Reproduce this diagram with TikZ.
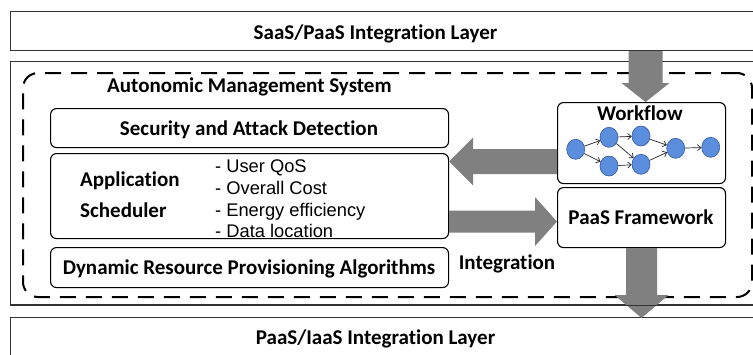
\documentclass[tikz,border=0pt]{standalone}
\usepackage{fontspec}
\setmainfont[RawFeature={-liga;-clig;-dlig;-calt}]{Carlito}
\newfontfamily\arialf[RawFeature={-liga;-clig;-dlig}]{Liberation Sans}
\usetikzlibrary{calc,shapes.geometric,arrows.meta}
\definecolor{nodeblue}{RGB}{92,142,222}
\definecolor{nodeedge}{RGB}{50,90,165}
\definecolor{arrowgray}{RGB}{128,128,128}
\newcommand\fatarr[5]{%
  \coordinate (facenter) at ($(#2)!#5!(#1)$);
  \fill[fatarrow] ($(#1)!#3!90:(#2)$) -- ($(facenter)!#3!90:(#2)$) -- ($(facenter)!#4!90:(#2)$) -- (#2)
    -- ($(facenter)!#4!-90:(#2)$) -- ($(facenter)!#3!-90:(#2)$) -- ($(#1)!#3!-90:(#2)$) -- cycle;}
\begin{document}
\begin{tikzpicture}[x=1pt,y=-1pt,
  layerbox/.style={draw=black!80, line width=1.2pt, inner sep=0pt, anchor=north west},
  inbox/.style={draw=black, line width=1.1pt, rounded corners=6pt, inner sep=0pt, anchor=north west},
  boldtxt/.style={font=\fontsize{21}{25}\selectfont\bfseries, inner sep=0pt},
  itemtxt/.style={font=\arialf\fontsize{18.3}{22}\selectfont, inner sep=0pt, anchor=base west},
  wfn/.style={ellipse, draw=nodeedge, fill=nodeblue, line width=0.6pt, minimum width=18pt, minimum height=20pt, inner sep=0pt},
  wfe/.style={draw=black!85, line width=0.7pt, -{Straight Barb[length=3.5pt,width=6pt]}},
  fatarrow/.style={fill=arrowgray}
]
\useasboundingbox (0,0) rectangle (753,354);
\fill[white] (0,0) rectangle (753,354);

% outer layers
\node[layerbox, minimum width=760pt, minimum height=39pt] (saas) at (10,11) {};
\node[boldtxt, anchor=base] (saastxt) at (375.5,39) {SaaS/PaaS Integration Layer};
\node[layerbox, minimum width=760pt, minimum height=243pt] (mid) at (10,61) {};
\node[layerbox, minimum width=760pt, minimum height=60pt] (iaas) at (10,317) {};
\node[boldtxt, anchor=base] (iaastxt) at (375.5,344.5) {PaaS/IaaS Integration Layer};

% autonomic management system
\node[draw=black, line width=2pt, dash pattern=on 16pt off 10pt, rounded corners=15pt,
      minimum width=729pt, minimum height=224pt, inner sep=0pt, anchor=north west] (ams) at (22,72) {};
\node[boldtxt, anchor=base west] (amstxt) at (107,92) {Autonomic Management System};

% inner boxes
\node[inbox, minimum width=398pt, minimum height=39pt] (sec) at (50,108) {};
\node[boldtxt, anchor=base] (sectxt) at (249,135) {Security and Attack Detection};
\node[inbox, minimum width=398pt, minimum height=85pt] (app) at (50,153) {};
\node[boldtxt, anchor=base west] (apptxt1) at (80,186) {Application};
\node[boldtxt, anchor=base west] (apptxt2) at (80,217) {Scheduler};
\node[itemtxt] (it1) at (215,172.5) {- User QoS};
\node[itemtxt] (it2) at (215,194.3) {- Overall Cost};
\node[itemtxt] (it3) at (215,216) {- Energy efficiency};
\node[itemtxt] (it4) at (215,237.6) {- Data location};
\node[inbox, minimum width=398pt, minimum height=40pt] (dyn) at (50,247) {};
\node[boldtxt, anchor=base] (dyntxt) at (249,274) {Dynamic Resource Provisioning Algorithms};
\node[boldtxt, anchor=base] (integ) at (507,269) {Integration};

\node[inbox, minimum width=168pt, minimum height=81pt] (wf) at (557,102) {};
\node[boldtxt, anchor=base] (wftxt) at (640,120) {Workflow};
\node[inbox, minimum width=168pt, minimum height=60pt] (pf) at (557,187) {};
\node[boldtxt, anchor=base] (pftxt) at (641,224) {PaaS Framework};

% workflow graph
\node[wfn] (n1) at (575.7,149.3) {};
\node[wfn] (n2) at (609,137.3) {};
\node[wfn] (n3) at (609,166) {};
\node[wfn] (n4) at (641,136) {};
\node[wfn] (n5) at (641,164.3) {};
\node[wfn] (n6) at (675.7,148.3) {};
\node[wfn] (n7) at (710.7,147.3) {};
\draw[wfe] (n1) -- (n2);
\draw[wfe] (n1) -- (n3);
\draw[wfe] (n2) -- (n4);
\draw[wfe] (n2) -- (n5);
\draw[wfe] (n3) -- (n5);
\draw[wfe] (n4) -- (n6);
\draw[wfe] (n5) -- (n6);
\draw[wfe] (n6) -- (n7);

% fat arrows
\coordinate (bA) at (pf.south);
\coordinate (bB) at ([yshift=-1pt]pf.south |- iaas.north);
\fatarr{bA}{bB}{15.5pt}{27pt}{23pt}
\draw[black!80, line width=1.2pt] (mid.south west) -- (mid.south east);
\coordinate (tB) at ([xshift=4pt]wf.north);
\coordinate (tA) at (tB |- saas.south);
\fatarr{tA}{tB}{17pt}{24pt}{19pt}
\coordinate (lA) at ([yshift=-18.5pt]wf.west);
\coordinate (lB) at (app.east |- lA);
\fatarr{lA}{lB}{12.5pt}{24pt}{24pt}
\coordinate (rA) at ([yshift=-25.5pt]app.east);
\coordinate (rB) at (pf.west |- rA);
\fatarr{rA}{rB}{11pt}{24.5pt}{22pt}
\end{tikzpicture}
\end{document}
